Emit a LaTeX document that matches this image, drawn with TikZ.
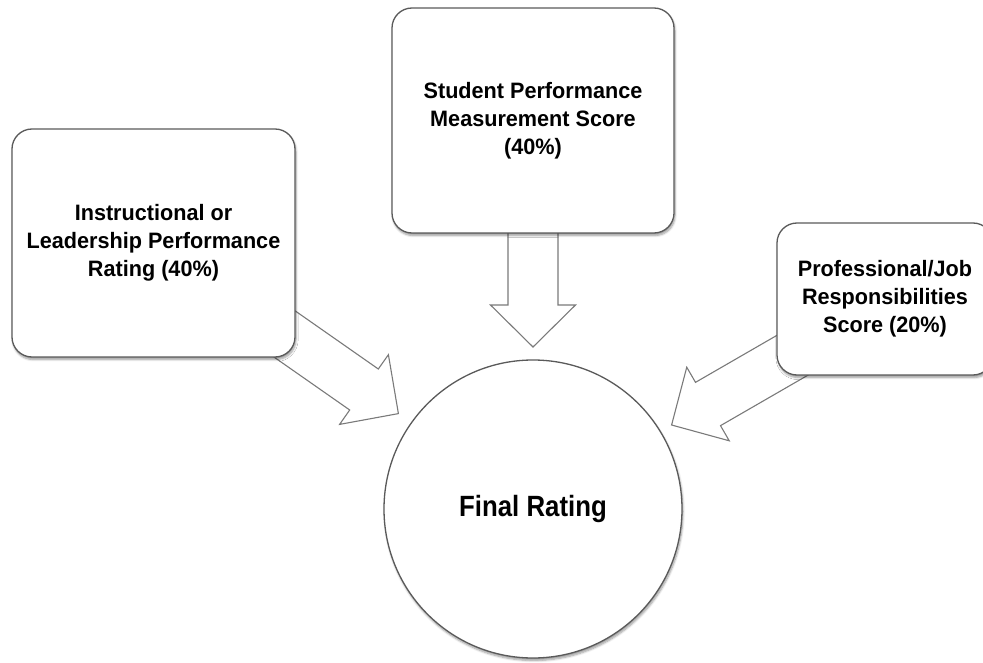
\documentclass[tikz,border=0pt]{standalone}
\usepackage{fontspec}
\setmainfont{Liberation Sans}
\newfontfamily\boxfont[FakeStretch=0.97]{Liberation Sans}
\newfontfamily\finalfont[FakeStretch=0.88]{Liberation Sans}
\usetikzlibrary{shadows.blur}
\definecolor{boxline}{HTML}{5A5A5A}
\definecolor{arrline}{HTML}{7A7A7A}
\tikzset{
  infobox/.style={draw=boxline, line width=1.3pt, fill=white, rounded corners=20pt,
    align=center, inner sep=0pt,
    font=\boxfont\fontsize{22.3}{28}\selectfont\bfseries,
    blur shadow={shadow xshift=1pt, shadow yshift=-2.5pt, shadow blur steps=6, shadow opacity=40}},
  finalcircle/.style={circle, draw=boxline, line width=1.3pt, fill=white, inner sep=0pt,
    minimum size=298pt, font=\finalfont\fontsize{29.3}{34}\selectfont\bfseries,
    blur shadow={shadow xshift=1pt, shadow yshift=-2.5pt, shadow blur steps=6, shadow opacity=40}},
  blockarrow/.style={draw=arrline, line width=1.1pt, fill=white, line join=miter}
}
\begin{document}
\begin{tikzpicture}[x=1pt,y=-1pt]
\useasboundingbox (0,0) rectangle (983,663);
\clip (0,0) rectangle (983,663);
% block arrows (behind boxes)
\draw[blockarrow] (255.3,283) -- (378.3,369) -- (388.4,354.7) -- (398.4,413.6) -- (339.6,424.4) -- (349.7,410) -- (226.7,324) -- cycle;
\draw[blockarrow] (825.4,307.35) -- (695.5,382.35) -- (686.75,367.2) -- (671.6,425) -- (729.25,440.8) -- (720.5,425.65) -- (850.4,350.65) -- cycle;
\draw[blockarrow] (508,150) -- (508,305) -- (490.5,305) -- (533,347) -- (575.5,305) -- (558,305) -- (558,150) -- cycle;
% boxes
\node[infobox, minimum width=283pt, minimum height=228pt] (lead) at (153.5,243)
  {Instructional or\\Leadership Performance\\Rating (40\%)};
\node[infobox, minimum width=282pt, minimum height=225pt] (stud) at (533,120.5)
  {Student Performance\\Measurement Score\\(40\%)};
\node[infobox, minimum width=216pt, minimum height=152pt] (prof) at (885,299)
  {Professional/Job\\Responsibilities\\Score (20\%)};
\node[finalcircle] (final) at (533,509) {Final Rating};
\end{tikzpicture}
\end{document}
